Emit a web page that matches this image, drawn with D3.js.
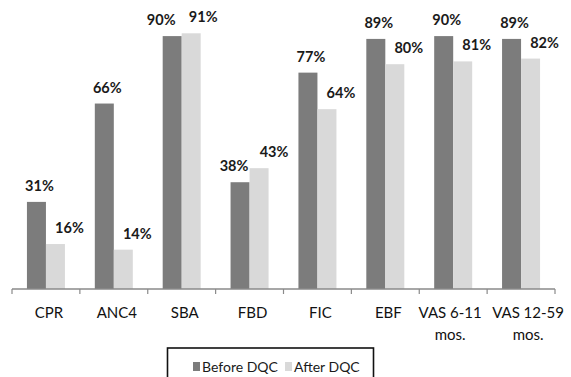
<!DOCTYPE html>
<html>
<head>
<meta charset="utf-8">
<script src="https://cdn.jsdelivr.net/npm/d3@7"></script>
<style>
  html, body { margin: 0; padding: 0; background: #fff; }
  svg { display: block; font-family: Lato, "Open Sans", sans-serif; }
</style>
</head>
<body>
<svg id="chart" width="571" height="377"></svg>
<script>
// Indicator coverage before and after the data quality check
const categories = ["CPR", "ANC4", "SBA", "FBD", "FIC", "EBF", "VAS 6-11 mos.", "VAS 12-59 mos."];
const seriesNames = ["Before DQC", "After DQC"];
const beforeDQC = [31, 66, 90, 38, 77, 89, 90, 89];
const afterDQC = [16, 14, 91, 43, 64, 80, 81, 82];

const colors = { "Before DQC": "#7c7c7c", "After DQC": "#d9d9d9" };

// Label lines for the wrapped category names
const categoryLines = {
  "VAS 6-11 mos.": ["VAS 6-11", "mos."],
  "VAS 12-59 mos.": ["VAS 12-59", "mos."]
};
// Horizontal nudges for category labels (default and overrides)
const catShiftDefault = 3;
const catShift = { "VAS 6-11 mos.": -3, "VAS 12-59 mos.": 7 };

// Horizontal nudges for value labels (series default, per-category override)
const labelShift = { "Before DQC": 3, "After DQC": 14 };
const labelShiftOverride = {
  "SBA": { "Before DQC": -11, "After DQC": 12 },
  "FBD": { "Before DQC": -6, "After DQC": 15 }
};

const svg = d3.select("#chart");
const plot = { left: 12, right: 555, top: 8, bottom: 289 };

const x = d3.scaleBand().domain(categories).range([plot.left, plot.right]).padding(0);
const barW = 19;
const xInner = d3.scaleBand().domain(seriesNames)
  .range([(x.bandwidth() - 2 * barW) / 2, (x.bandwidth() + 2 * barW) / 2]);
const y = d3.scaleLinear().domain([0, 100]).range([plot.bottom, plot.top]);

const rows = categories.map((c, i) => ({
  category: c,
  values: [
    { series: "Before DQC", value: beforeDQC[i] },
    { series: "After DQC", value: afterDQC[i] }
  ]
}));

const groups = svg.append("g").selectAll("g")
  .data(rows).join("g")
  .attr("transform", d => `translate(${x(d.category)},0)`);

groups.selectAll("rect")
  .data(d => d.values).join("rect")
  .attr("x", d => xInner(d.series))
  .attr("width", xInner.bandwidth())
  .attr("y", d => y(d.value))
  .attr("height", d => y(0) - y(d.value))
  .attr("fill", d => colors[d.series]);

groups.selectAll("text.value")
  .data(d => d.values.map(v => ({ ...v, category: d.category }))).join("text")
  .attr("class", "value")
  .attr("x", d => {
    const o = labelShiftOverride[d.category];
    const s = o ? o[d.series] : labelShift[d.series];
    return xInner(d.series) + xInner.bandwidth() / 2 + s;
  })
  .attr("y", d => y(d.value) - 11)
  .attr("text-anchor", "middle")
  .attr("font-size", 14.5)
  .attr("font-weight", "bold")
  .attr("fill", "#1a1a1a")
  .text(d => d.value + "%");

// Category axis with ticks at band boundaries
const axisG = svg.append("g").attr("transform", `translate(0,${plot.bottom})`);
axisG.append("line")
  .attr("x1", plot.left).attr("x2", plot.right)
  .attr("stroke", "#8a8a8a").attr("stroke-width", 1.5);
const boundaries = categories.map(c => x(c)).concat([plot.right]);
axisG.selectAll("line.tick").data(boundaries).join("line")
  .attr("class", "tick")
  .attr("x1", d => d).attr("x2", d => d)
  .attr("y1", 0).attr("y2", 5)
  .attr("stroke", "#8a8a8a").attr("stroke-width", 1.2);

const catLabels = axisG.selectAll("text.cat").data(categories).join("text")
  .attr("class", "cat")
  .attr("text-anchor", "middle")
  .attr("font-size", 15)
  .attr("fill", "#111")
  .attr("transform", d => {
    const s = d in catShift ? catShift[d] : catShiftDefault;
    return `translate(${x(d) + x.bandwidth() / 2 + s},29)`;
  });
catLabels.selectAll("tspan")
  .data(d => categoryLines[d] || [d]).join("tspan")
  .attr("x", 0)
  .attr("dy", (d, i) => i === 0 ? 0 : 22)
  .text(d => d);

// Legend
const legend = svg.append("g");
legend.append("rect")
  .attr("x", 167.5).attr("y", 348)
  .attr("width", 206).attr("height", 40)
  .attr("fill", "#fff").attr("stroke", "#111").attr("stroke-width", 1.6);
const legendX = { "Before DQC": 193, "After DQC": 285 };
const items = legend.selectAll("g.item").data(seriesNames).join("g")
  .attr("class", "item")
  .attr("transform", d => `translate(${legendX[d]},372)`);
items.append("rect")
  .attr("x", 0).attr("y", -10).attr("width", 7).attr("height", 9)
  .attr("fill", d => colors[d]);
items.append("text")
  .attr("x", 9).attr("y", 0)
  .attr("font-size", 14)
  .attr("fill", "#1a1a1a")
  .text(d => d);
</script>
</body>
</html>
